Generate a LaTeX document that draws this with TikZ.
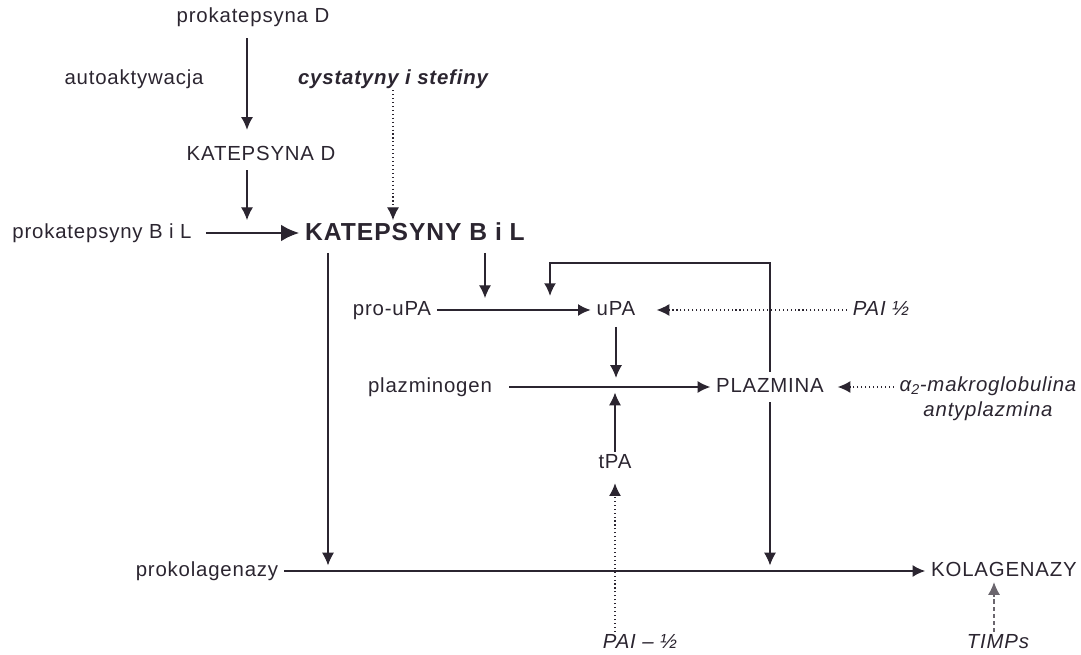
\documentclass[tikz,border=0pt]{standalone}
\usepackage{fontspec}
\setmainfont{Liberation Sans}[LetterSpace=4]
\usetikzlibrary{arrows.meta}
\definecolor{ink}{HTML}{2B2530}
\tikzset{
  lbl/.style={font=\fontsize{14.5}{17}\selectfont, text=ink, inner xsep=4pt, inner ysep=1pt, text height=10.5pt, text depth=3pt},
  inh/.style={lbl, font=\fontsize{14.5}{17}\selectfont\itshape},
  act/.style={draw=ink, line width=0.8pt, -{Latex[length=9pt,width=8.5pt]}},
  blk/.style={act, dotted},
}
\begin{document}
\begin{tikzpicture}[x=0.025cm, y=-0.025cm]
\useasboundingbox (0,0) rectangle (1081,655);
% enzymy i proenzymy
\foreach \x/\y/\nm/\lab in {253/17/pkd/prokatepsyna D, 134/79/auto/autoaktywacja,
  261/155/kd/KATEPSYNA D, 102/233/pkbl/prokatepsyny B i L, 392/310/prou/pro-uPA,
  616/310/upa/uPA, 430/387/plg/plazminogen, 770/387/plz/PLAZMINA, 615/463/tpa/tPA,
  207/571/pkol/prokolagenazy, 1004/571/kol/KOLAGENAZY} {
  \node[lbl] (\nm) at (\x,\y) {\lab};
}
\node[lbl, font=\fontsize{17.5}{20}\selectfont\bfseries, text height=13pt] (kbl) at (415,233) {KATEPSYNY B i L};
% inhibitory
\node[inh, font=\fontsize{14.5}{17}\selectfont\bfseries\itshape] (cyst) at (393,79) {cystatyny i stefiny};
\node[inh] (pai1) at (881,310) {PAI ½};
\node[font=\fontsize{14.5}{18}\selectfont\itshape, text=ink, align=center, inner xsep=4pt] (a2m) at (988,399) {α\textsubscript{2}-makroglobulina\\antyplazmina};
\node[inh] (pai2) at (640,643) {PAI – ½};
\node[inh] (timp) at (998,643) {TIMPs};
\coordinate (cD) at (247,0);
\coordinate (cK) at (328,0);
\coordinate (cR) at (485,0);
\coordinate (lp) at (550,263);
\coordinate (cT) at (994,0);
% aktywacja
\draw[act, shorten <=7pt, shorten >=10pt] (pkd.south -| cD) -- (kd.north -| cD);
\draw[act, shorten <=3pt] (kd.south -| cD) -- (cD |- kbl.north);
\draw[act, line width=2pt, -{Latex[length=13pt,width=12pt]}, shorten <=6pt] (pkbl.east) -- (kbl.west);
\draw[act, shorten <=5pt, shorten >=4pt] (kbl.south -| cK) -- (cK |- pkol);
\draw[act, shorten <=5pt, shorten >=8.5pt] (kbl.south -| cR) -- (cR |- prou);
\draw[act, line width=1.4pt] (prou.east) -- (upa.west);
\draw[act, line width=1.1pt, shorten <=3pt, shorten >=10pt] (plz.north) |- (lp) -- (lp |- upa);
\draw[act, shorten <=4pt, shorten >=6.5pt] (upa.south) -- (upa.south |- plz);
\draw[act, shorten <=8pt] (plg.east) -- (plz.west);
\draw[act, shorten >=4pt] (tpa.north) -- (tpa.north |- plz);
\draw[act, shorten <=3pt, shorten >=4pt] (plz.south) -- (plz.south |- kol);
\draw[act, line width=1.4pt] (pkol.east) -- (kol.west);
% hamowanie
\draw[blk] (cyst.south) -- (cyst.south |- kbl.north);
\draw[blk, shorten >=11pt] (pai1.west) -- (upa.east);
\draw[blk, shorten >=5.7pt] (plz.east -| a2m.west) -- (plz.east);
\draw[blk, shorten >=6.5pt] (pai2.north -| tpa) -- (tpa.south);
\draw[act, draw=ink!70, dash pattern=on 3pt off 2pt] (timp.north -| cT) -- (cT |- kol.south);
\end{tikzpicture}
\end{document}
